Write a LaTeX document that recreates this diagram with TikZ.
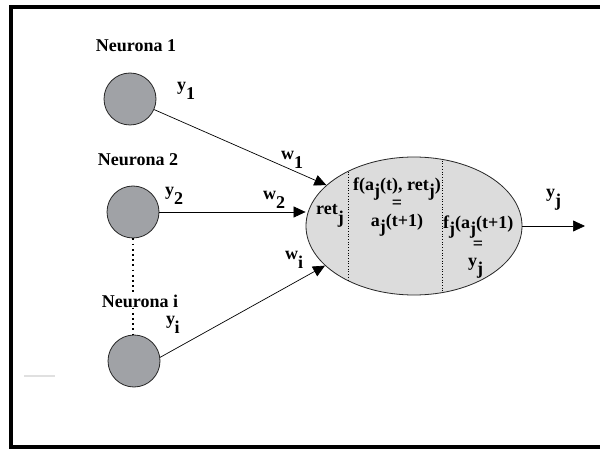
\documentclass[tikz,border=0pt]{standalone}
\usepackage{fontspec}
\setmainfont{Liberation Serif}
\usepackage{tikz}
\usetikzlibrary{shapes.geometric, arrows.meta, positioning, calc}
\definecolor{soma}{HTML}{A0A2A6}
\definecolor{cellgray}{HTML}{DCDCDC}
\newcommand{\lo}[1]{\raisebox{-0.5em}{#1}}
\newcommand{\lol}[1]{\raisebox{-0.3em}{#1}}

\begin{document}
\begin{tikzpicture}[x=1pt, y=-1pt,
  every node/.style={font=\fontsize{18}{20}\selectfont\bfseries, inner sep=0pt},
  neuron/.style={circle, draw=black!85, fill=soma, line width=0.8pt, minimum size=52pt},
  link/.style={line width=0.7pt, -{Triangle[length=12pt, width=11pt]}}]
  \useasboundingbox (0,0) rectangle (600,449);
  \draw[line width=4pt] (11,7) rectangle (640,447);
  \draw[black!12, line width=1.2pt] (24,376) -- (55,376);

  % Neurons
  \node[neuron] (n1) at (130,99) {};
  \node[neuron] (n2) at (133,212) {};
  \node[neuron] (ni) at (134,361) {};
  \node (lab1) at (136,46) {Neurona 1};
  \node (lab2) at (138,160) {Neurona 2};
  \node (labi) at (140,301) {Neurona i};
  \node[anchor=base west] (y1) at (177,91) {y\lo{1}};
  \node[anchor=base west] (y2) at (165,196) {y\lo{2}};
  \node[anchor=base west] (yi) at (166,324) {y\kern-0.5pt\lo{i}};
  \draw[line width=1.8pt, dash pattern=on 1.8pt off 3.4pt]
    (n2.south) -- (n2.south |- labi.north);
  \draw[line width=1.8pt, dash pattern=on 1.8pt off 3.4pt]
    (labi.south -| n2.south) -- (n2.south |- ni.north);

  % Cell
  \node[ellipse, draw=black!85, fill=cellgray, line width=0.8pt,
        minimum width=216pt, minimum height=138pt] (cell) at (414,226) {};
  \begin{scope}
    \clip (414,226) ellipse [x radius=108pt, y radius=69pt];
    \draw[dotted, line width=0.7pt] (348,150) -- (348,300);
    \draw[dotted, line width=0.7pt] (442,150) -- (442,300);
  \end{scope}
  \node[anchor=base west] (ret) at (316,215) {ret\lo{j}};
  \node[anchor=base] (fa) at (397,191) {f(a\lol{j}(t), ret\lol{j})};
  \node (eq1) at (397,204) {=};
  \node[anchor=base] (aj) at (397,227) {a\lol{j}(t+1)};
  \node[anchor=base west] (fj) at (443,229) {f\lol{j}(a\lol{j}(t+1)};
  \node (eq2) at (478,245) {=};
  \node[anchor=base west] (yj) at (468,266) {y\lo{j}};

  % Connections
  \coordinate (out) at (585,226);
  \draw[link] (n1) -- (cell.155);
  \draw[link] (n2) -- (n2 -| cell.west);
  \draw[link] (ni.8) -- (cell.204);
  \draw[link] (cell) -- (out);
  \node[anchor=base west] (w1) at (281,160) {w\lo{1}};
  \node[anchor=base west] (w2) at (263,200) {w\lo{2}};
  \node[anchor=base west] (wi) at (285,260) {w\lo{i}};
  \node[anchor=base west] (yout) at (546,198) {y\lo{j}};
\end{tikzpicture}
\end{document}
